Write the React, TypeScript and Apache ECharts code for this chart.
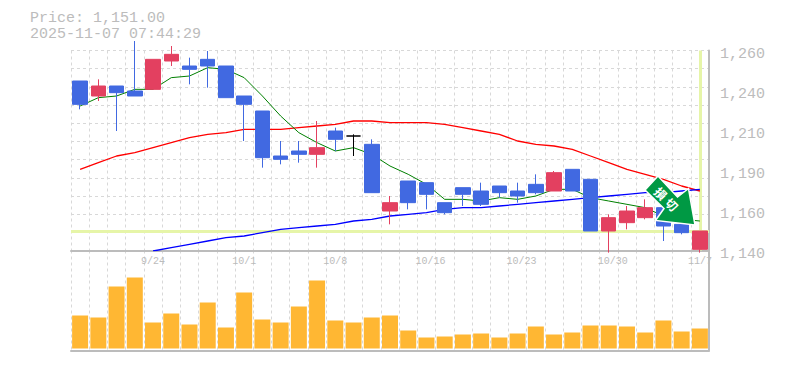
import React, { useEffect, useRef } from "react";
import * as echarts from "echarts";

const dates = ["9/17","9/18","9/19","9/22","9/24","9/25","9/26","9/29","9/30","10/1","10/2","10/3","10/6","10/7","10/8","10/9","10/10","10/14","10/15","10/16","10/17","10/20","10/21","10/22","10/23","10/24","10/27","10/28","10/29","10/30","10/31","11/4","11/5","11/6","11/7"];
const shownDates = ["9/24","10/1","10/8","10/16","10/23","10/30","11/7"];
// [open, close, low, high]
const candles: number[][] = [
  [1241,1227,1224,1241],[1232,1238,1229,1242],[1238,1234,1211,1238],[1235,1232,1232,1265],
  [1236,1254,1236,1254],[1253,1257,1250,1262],[1250,1248,1239,1255],[1254,1250,1237,1259],
  [1250,1231,1231,1250],[1232,1227,1205,1232],[1223,1195,1189,1223],[1196,1194,1191,1205],
  [1199,1197,1192,1205],[1197,1201,1189,1217],[1211,1206,1199,1213],[1208,1208,1196,1209],
  [1203,1174,1174,1206],[1163,1168,1155,1172],[1181,1168,1164,1181],[1180,1173,1164,1180],
  [1168,1162,1161,1168],[1177,1173,1166,1177],[1175,1167,1166,1180],[1178,1174,1171,1178],
  [1175,1172,1168,1180],[1179,1174,1173,1185],[1175,1186,1175,1187],[1188,1175,1175,1188],
  [1182,1151,1151,1182],[1151,1159,1138,1161],[1156,1163,1152,1166],[1159,1165,1158,1170],
  [1165,1154,1145,1165],[1155,1150,1149,1155],[1140,1151,1138,1151],
];
const ma5 = [1226,1231,1232,1236,1236,1243,1244,1249,1248,1243,1232,1220,1210,1204,1199,1201,1197,1190,1185,1179,1170,1170,1169,1171,1170,1172,1176,1176,1171,1169,1167,1165,1160,1158,1157];
const ma25 = [1188,1192,1196,1198,1201,1204,1207,1209,1210,1212,1212,1212,1213,1214,1215,1217,1217,1216,1216,1216,1215,1213,1211,1209,1205,1203,1202,1200,1196,1192,1188,1185,1182,1178,1175];
const ma75: (number | null)[] = [null,null,null,null,1139,1141,1143,1145,1147,1148,1150,1152,1153,1154,1155,1157,1158,1160,1161,1162,1164,1165,1165,1166,1167,1168,1169,1170,1171,1172,1173,1174,1174,1175,1176];
const volumes = [33,31,62,71,26,35,24,46,21,56,29,26,42,68,28,26,31,33,18,11,12,14,15,11,15,22,14,16,23,23,22,16,28,17,20];
const lastPrice = 1151;
const lastDate = "11/7";
const titleLines = ["Price: 1,151.00", "2025-11-07 07:44:29"];
const badgeText = ["損", "切"];

const GRAY = "#bcbcbc";
const GRID = "#d8d8d8";
const MONO = "'Liberation Mono', monospace";

export default function App() {
  const ref = useRef<HTMLDivElement>(null);
  useEffect(() => {
    const chart = echarts.init(ref.current!, undefined, { renderer: "svg" });
    const commaRounded = (v: number) => (Math.round(v / 10) * 10).toLocaleString("en-US");
    chart.setOption({
      animation: false,
      backgroundColor: "#fff",
      title: {
        text: titleLines.join("\n"), left: 30, top: 10, padding: 0,
        textStyle: { color: GRAY, fontFamily: MONO, fontSize: 15, fontWeight: "normal", lineHeight: 16 },
      },
      grid: [
        { left: 71, width: 638, top: 50.5, height: 200 },
        { left: 71, width: 638, top: 250.5, height: 100 },
        { left: 71, width: 638, top: 54.5, height: 200 },
      ],
      xAxis: [
        {
          type: "category", gridIndex: 0, data: dates,
          axisLine: { lineStyle: { color: GRAY, width: 2 } }, axisTick: { show: false },
          splitLine: { show: true, interval: 0, lineStyle: { color: GRID, type: [3, 3] } },
          axisLabel: {
            interval: 0, margin: 6, color: GRAY, fontFamily: MONO, fontSize: 10, hideOverlap: false,
            formatter: (v: string) => (shownDates.includes(v) ? (v.length > 4 ? `{w|${v}}` : v) : ""),
            rich: { w: { color: GRAY, fontFamily: MONO, fontSize: 10, padding: [0, 0, 0, 8] } },
          },
        },
        {
          type: "category", gridIndex: 1, data: dates,
          axisLine: { onZero: false, lineStyle: { color: GRAY, width: 2 } }, axisTick: { show: false },
          axisLabel: { show: false },
          splitLine: { show: true, interval: 0, lineStyle: { color: GRID, type: [3, 3] } },
        },
        { type: "category", gridIndex: 2, data: dates, show: false },
      ],
      yAxis: [
        { type: "value", gridIndex: 0, min: 1139.3, max: 1259.3, show: false, scale: true },
        {
          type: "value", gridIndex: 0, min: 0, max: 11, interval: 1, position: "right",
          axisLine: { show: true, lineStyle: { color: GRAY, width: 2 } }, axisTick: { show: false }, axisLabel: { show: false },
          splitLine: { show: true, lineStyle: { color: GRID, type: [3, 3] } },
        },
        {
          type: "value", gridIndex: 1, min: -2, max: 98, position: "right",
          axisLine: { show: true, lineStyle: { color: GRAY, width: 2 } }, axisTick: { show: false }, axisLabel: { show: false },
          splitLine: { show: false },
        },
        {
          type: "value", gridIndex: 2, min: 1140, max: 1260, interval: 24, position: "right",
          axisLine: { show: false }, axisTick: { show: false }, splitLine: { show: false },
          axisLabel: { margin: 11, color: GRAY, fontFamily: MONO, fontSize: 15, formatter: commaRounded },
        },
      ],
      series: [
        {
          type: "line", xAxisIndex: 0, yAxisIndex: 0, data: [], z: 1, silent: true,
          markLine: {
            silent: true, symbol: "none", label: { show: false }, z: 1,
            lineStyle: { color: "#e6f5a8", width: 3, type: "solid" },
            data: [{ yAxis: lastPrice }, { xAxis: lastDate }],
          },
        },
        ...[[ma25, "#ff0000", 1.3], [ma75, "#0000ff", 1.3], [ma5, "#008000", 1]].map(([data, color, width]) => ({
          type: "line", xAxisIndex: 0, yAxisIndex: 0, data, z: 2, symbol: "none",
          lineStyle: { color, width },
        })),
        {
          type: "candlestick", xAxisIndex: 0, yAxisIndex: 0, z: 3, barWidth: 15,
          data: candles.map((c) => {
            const doji = c[0] === c[1];
            return doji
              ? { value: c, itemStyle: { color: "#000", color0: "#000", borderColor: "#000", borderColor0: "#000", borderColorDoji: "#000" } }
              : c;
          }),
          itemStyle: { color: "#e34060", color0: "#4169e1", borderColor: "#e34060", borderColor0: "#4169e1", borderWidth: 1 },
        },
        {
          type: "bar", xAxisIndex: 1, yAxisIndex: 2, data: volumes, barWidth: 16,
          itemStyle: { color: "#ffb733" },
        },
      ],
      graphic: [
        {
          type: "polygon", z: 20,
          shape: { points: [[658, 176], [645, 190], [664, 208.5], [655.5, 220.5], [695, 225], [688.5, 188.5], [677.5, 197]] },
          style: { fill: "#009944", stroke: "#fff", lineWidth: 1.5 },
        },
        ...badgeText.map((t, i) => ({
          type: "text", z: 21, x: 661 + i * 11, y: 193 + i * 11, rotation: -Math.PI / 4,
          style: { text: t, fill: "#fff", font: "bold 12px 'Noto Sans CJK JP'", align: "center", verticalAlign: "middle" },
        })),
      ],
    });
    return () => chart.dispose();
  }, []);
  return <div ref={ref} style={{ width: 785, height: 370, position: "absolute", left: 0, top: 0 }} />;
}
